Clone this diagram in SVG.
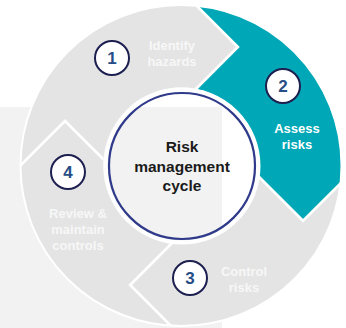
<svg xmlns="http://www.w3.org/2000/svg" width="346" height="328" viewBox="0 0 346 328">
<style>
.seg{fill:#e4e4e4;stroke:#ffffff;stroke-width:2.5;stroke-linejoin:miter}
.teal{fill:#00a7b6}
.badge{fill:#ffffff;stroke:#1c1f4f;stroke-width:2}
.num{font-family:"Liberation Sans",Arial,sans-serif;font-weight:bold;font-size:17px;fill:#264d86;text-anchor:middle}
.lbl{font-family:"Liberation Sans",Arial,sans-serif;font-weight:bold;font-size:13px;fill:#f7f7f7;text-anchor:middle}
.lbl2{fill:#ffffff}
.ctr{font-family:"Liberation Sans",Arial,sans-serif;font-weight:bold;font-size:15.5px;fill:#1a1a1a;text-anchor:middle}
</style>
<defs>
<clipPath id="ann">
<path clip-rule="evenodd" d="M20.5 165.5A160.5 160.5 0 1 0 341.5 165.5A160.5 160.5 0 1 0 20.5 165.5Z M103 165.5A78 78 0 1 0 259 165.5A78 78 0 1 0 103 165.5Z"/>
</clipPath>
</defs>
<rect x="0" y="107" width="222" height="221" fill="#f2f2f2"/>
<g id="connectors"/>
<g id="step1">
<polygon class="seg" clip-path="url(#ann)" points="-5,191 65,121 120,176 183,102 238,47 168,-23 -40,-40"/>
<circle class="badge" cx="112" cy="58" r="17"/>
<text class="num" x="112" y="64">1</text>
<text class="lbl" x="172" y="50">Identify</text>
<text class="lbl" x="172" y="66">hazards</text>
</g>
<g id="step2">
<polygon class="seg teal" clip-path="url(#ann)" points="168,-23 238,47 183,102 243,161 303,221 373,151 400,-40"/>
<circle class="badge" cx="283" cy="86" r="17"/>
<text class="num" x="283" y="92">2</text>
<text class="lbl lbl2" x="297" y="133">Assess</text>
<text class="lbl lbl2" x="297" y="149">risks</text>
</g>
<g id="step3">
<polygon class="seg" clip-path="url(#ann)" points="373,151 303,221 243,161 190,225 130,285 200,355 400,400"/>
<circle class="badge" cx="190" cy="278" r="17"/>
<text class="num" x="190" y="284">3</text>
<text class="lbl" x="244" y="276">Control</text>
<text class="lbl" x="244" y="292">risks</text>
</g>
<g id="step4">
<polygon class="seg" clip-path="url(#ann)" points="200,355 130,285 190,225 120,176 65,121 -5,191 -40,400"/>
<circle class="badge" cx="68" cy="172" r="17"/>
<text class="num" x="68" y="178">4</text>
<text class="lbl" x="78" y="218">Review &amp;</text>
<text class="lbl" x="78" y="234">maintain</text>
<text class="lbl" x="78" y="250">controls</text>
</g>
<circle cx="181" cy="165.5" r="160.5" fill="none" stroke="#ffffff" stroke-width="2"/>
<g id="center">
<circle cx="182" cy="166" r="76.5" fill="none" stroke="#ffffff" stroke-width="4"/>
<circle cx="182" cy="166" r="73" fill="none" stroke="#2f3a8a" stroke-width="2.2"/>
<text class="ctr" x="182" y="152">Risk</text>
<text class="ctr" x="182" y="171.5">management</text>
<text class="ctr" x="182" y="191">cycle</text>
</g>
</svg>
